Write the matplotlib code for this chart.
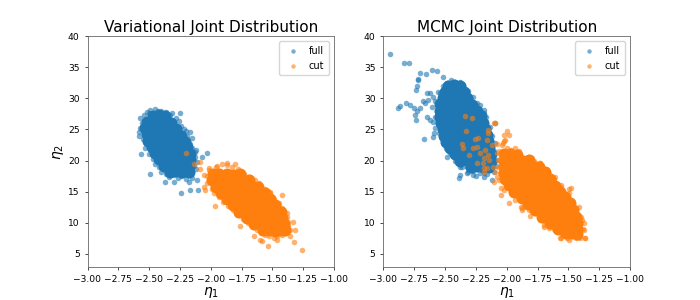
import matplotlib
matplotlib.use("Agg")
import matplotlib.pyplot as plt
import numpy as np

titles = ["Variational Joint Distribution", "MCMC Joint Distribution"]
labels = ["full", "cut"]
xticks = [-3.00, -2.75, -2.50, -2.25, -2.00, -1.75, -1.50, -1.25, -1.00]
yticks = [5, 10, 15, 20, 25, 30, 35, 40]

# ---------------- Variational: full (blue) ----------------
var_full_core_x = [-2.47, -2.42, -2.37,
                   -2.52, -2.47, -2.42, -2.37, -2.32,
                   -2.53, -2.48, -2.43, -2.38, -2.33, -2.28,
                   -2.52, -2.47, -2.42, -2.37, -2.32, -2.27, -2.24,
                   -2.51, -2.46, -2.41, -2.36, -2.31, -2.26, -2.21,
                   -2.48, -2.43, -2.38, -2.33, -2.28, -2.23, -2.19,
                   -2.45, -2.40, -2.35, -2.30, -2.25, -2.20, -2.17,
                   -2.42, -2.37, -2.32, -2.27, -2.22, -2.17,
                   -2.38, -2.33, -2.28, -2.23, -2.18,
                   -2.33, -2.28, -2.23, -2.18]
var_full_core_y = [27.2, 27.3, 27.1,
                   26.2, 26.3, 26.1, 26.2, 26.0,
                   25.2, 25.1, 25.3, 25.2, 25.1, 25.0,
                   24.2, 24.3, 24.1, 24.2, 24.3, 24.1, 24.0,
                   23.2, 23.1, 23.3, 23.2, 23.1, 23.2, 23.0,
                   22.2, 22.3, 22.1, 22.2, 22.3, 22.1, 22.2,
                   21.2, 21.1, 21.3, 21.2, 21.1, 21.2, 21.0,
                   20.2, 20.3, 20.1, 20.2, 20.3, 20.1,
                   19.2, 19.1, 19.3, 19.2, 19.1,
                   18.2, 18.3, 18.1, 18.2]
var_full_edge_x = [-2.571, -2.49, -2.314, -2.152, -2.112, -2.152, -2.34, -2.53, -2.571,
                   -2.45, -2.40, -2.36, -2.28, -2.24, -2.20, -2.17, -2.13, -2.12,
                   -2.20, -2.27, -2.40, -2.45, -2.50, -2.55, -2.58, -2.54, -2.52,
                   -2.253, -2.563, -2.495, -2.239, -2.166, -2.107, -2.031, -2.112,
                   -2.585, -2.166, -2.12, -2.071, -2.368, -2.30, -2.18,
                   -2.56, -2.52, -2.47, -2.42, -2.36, -2.30, -2.24, -2.17, -2.14,
                   -2.13, -2.15, -2.19, -2.22, -2.26, -2.33, -2.43, -2.50]
var_full_edge_y = [26.8, 28.1, 27.6, 23.6, 19.8, 17.2, 17.4, 22.0, 25.2,
                   28.2, 27.9, 27.8, 26.8, 25.6, 24.8, 22.6, 21.3, 18.6,
                   17.0, 17.2, 18.2, 19.5, 21.0, 23.4, 24.0, 27.3, 27.8,
                   27.6, 21.0, 17.85, 14.85, 15.2, 15.2, 21.2, 16.8,
                   24.6, 24.6, 21.7, 20.6, 16.6, 16.5, 16.5,
                   26.0, 22.8, 20.2, 19.0, 17.9, 17.6, 17.5, 17.8, 19.2,
                   20.5, 22.0, 23.9, 25.0, 26.3, 27.3, 28.0, 27.6]

# ---------------- Variational: cut (orange) ----------------
var_cut_core_x = [-1.98, -1.93, -1.87, -1.81, -1.76,
                  -1.99, -1.94, -1.89, -1.84, -1.79, -1.74, -1.69,
                  -1.96, -1.91, -1.86, -1.81, -1.76, -1.71, -1.66, -1.62,
                  -1.92, -1.87, -1.82, -1.77, -1.72, -1.67, -1.62, -1.56,
                  -1.87, -1.82, -1.77, -1.72, -1.67, -1.62, -1.57, -1.52,
                  -1.82, -1.77, -1.72, -1.67, -1.62, -1.57, -1.52, -1.48,
                  -1.77, -1.72, -1.67, -1.62, -1.57, -1.52, -1.47, -1.43,
                  -1.71, -1.66, -1.61, -1.56, -1.51, -1.46, -1.42,
                  -1.65, -1.60, -1.55, -1.50, -1.45, -1.41,
                  -1.58, -1.53, -1.48, -1.43, -1.40]
var_cut_core_y = [17.8, 17.9, 17.8, 17.7, 17.8,
                  16.8, 16.9, 16.8, 16.7, 16.8, 16.9, 16.8,
                  15.8, 15.9, 15.7, 15.8, 15.9, 15.8, 15.7, 15.8,
                  14.8, 14.9, 14.7, 14.8, 14.9, 14.8, 14.7, 14.8,
                  13.8, 13.9, 13.7, 13.8, 13.9, 13.8, 13.7, 13.8,
                  12.8, 12.9, 12.7, 12.8, 12.9, 12.8, 12.7, 12.8,
                  11.8, 11.9, 11.7, 11.8, 11.9, 11.8, 11.7, 11.8,
                  10.8, 10.9, 10.7, 10.8, 10.9, 10.8, 10.7,
                  9.8, 9.9, 9.7, 9.8, 9.9, 9.8,
                  8.8, 8.9, 8.7, 8.8, 8.9]
var_cut_edge_x = [-2.018, -1.95, -1.869, -1.78, -1.68, -1.60, -1.518, -1.45, -1.383,
                  -1.37, -1.356, -1.42, -1.49, -1.56, -1.626, -1.70, -1.788, -1.86,
                  -1.937, -1.99, -2.031, -2.03,
                  -1.259, -1.324, -1.537, -1.969, -1.767, -1.424, -1.33, -1.316,
                  -1.356, -1.653, -1.599, -1.464, -2.045, -2.058, -2.018, -1.869,
                  -1.802, -1.694, -1.613, -1.518, -1.586, -2.058,
                  -2.20, -2.14, -2.09, -2.085,
                  -2.00, -1.96, -1.91, -1.83, -1.73, -1.64, -1.56, -1.49, -1.42, -1.38,
                  -1.37, -1.40, -1.46, -1.53, -1.59, -1.66, -1.74, -1.82, -1.90, -1.97]
var_cut_edge_y = [18.5, 19.1, 19.3, 18.6, 17.4, 16.1, 14.75, 13.1, 11.5,
                  10.2, 8.86, 8.0, 7.5, 8.1, 8.86, 10.0, 11.3, 12.7,
                  14.2, 15.4, 16.4, 17.5,
                  5.65, 6.9, 6.35, 12.75, 9.55, 14.4, 10.1, 8.85,
                  7.8, 7.8, 7.25, 7.25, 15.3, 17.7, 18.8, 19.6,
                  19.45, 16.6, 16.35, 15.0, 7.15, 15.8,
                  21.2, 19.4, 18.7, 19.7,
                  17.0, 18.9, 19.4, 18.9, 17.9, 16.8, 15.4, 13.8, 12.3, 10.9,
                  9.5, 8.4, 7.9, 7.8, 8.4, 9.3, 10.6, 12.0, 13.4, 14.8]

# ---------------- MCMC: full (blue) ----------------
mcmc_full_core_x = [-2.48, -2.43, -2.38,
                    -2.50, -2.45, -2.40, -2.35,
                    -2.52, -2.47, -2.42, -2.37, -2.32,
                    -2.54, -2.49, -2.44, -2.39, -2.34, -2.28,
                    -2.54, -2.49, -2.44, -2.39, -2.34, -2.29, -2.24,
                    -2.54, -2.49, -2.44, -2.39, -2.34, -2.29, -2.25, -2.21,
                    -2.53, -2.48, -2.43, -2.38, -2.33, -2.28, -2.23, -2.19,
                    -2.52, -2.47, -2.42, -2.37, -2.32, -2.27, -2.22, -2.18,
                    -2.51, -2.46, -2.41, -2.36, -2.31, -2.26, -2.21, -2.16,
                    -2.49, -2.44, -2.39, -2.34, -2.29, -2.24, -2.19, -2.15,
                    -2.46, -2.41, -2.36, -2.31, -2.26, -2.21, -2.17, -2.14,
                    -2.42, -2.37, -2.32, -2.27, -2.22, -2.17, -2.13,
                    -2.38, -2.33, -2.28, -2.23, -2.18, -2.13,
                    -2.29, -2.24, -2.19, -2.14]
mcmc_full_core_y = [32.0, 32.1, 31.9,
                    31.0, 31.1, 30.9, 31.0,
                    30.0, 30.1, 29.9, 30.0, 30.1,
                    29.0, 29.1, 28.9, 29.0, 29.1, 28.9,
                    28.0, 28.1, 27.9, 28.0, 28.1, 27.9, 28.0,
                    27.0, 27.1, 26.9, 27.0, 27.1, 26.9, 27.0, 27.1,
                    26.0, 26.1, 25.9, 26.0, 26.1, 25.9, 26.0, 26.1,
                    25.0, 25.1, 24.9, 25.0, 25.1, 24.9, 25.0, 25.1,
                    24.0, 24.1, 23.9, 24.0, 24.1, 23.9, 24.0, 24.1,
                    23.0, 23.1, 22.9, 23.0, 23.1, 22.9, 23.0, 23.1,
                    22.0, 22.1, 21.9, 22.0, 22.1, 21.9, 22.0, 22.1,
                    21.0, 21.1, 20.9, 21.0, 21.1, 20.9, 21.0,
                    20.0, 20.1, 19.9, 20.0, 20.1, 19.9,
                    19.0, 19.1, 18.9, 19.0]
mcmc_full_edge_x = [-2.486, -2.418, -2.351, -2.27, -2.188, -2.134, -2.094, -2.067, -2.107,
                    -2.215, -2.324, -2.459, -2.513, -2.554, -2.567, -2.54, -2.605, -2.59,
                    -2.483, -2.375, -2.186, -2.145, -2.294,
                    -2.946, -2.832, -2.789, -2.702, -2.654, -2.608, -2.562, -2.518,
                    -2.716, -2.735, -2.878, -2.865, -2.816, -2.784, -2.751, -2.729,
                    -2.743, -2.735, -2.702, -2.675, -2.662, -2.635, -2.648, -2.621,
                    -2.60, -2.648, -2.621, -2.594, -2.581, -2.67, -2.594, -2.716,
                    -2.729, -2.215, -2.188, -2.094, -2.378, -2.383, -2.27, -2.188,
                    -2.121, -2.31,
                    -2.52, -2.45, -2.38, -2.31, -2.24, -2.17, -2.12, -2.10, -2.09, -2.16,
                    -2.27, -2.36, -2.42, -2.49, -2.55, -2.58, -2.58, -2.56, -2.25, -2.32]
mcmc_full_edge_y = [32.4, 32.67, 32.13, 30.26, 28.12, 25.45, 22.77, 20.1, 18.22,
                    17.96, 19.03, 21.17, 23.31, 25.98, 28.12, 30.8, 28.65, 24.4,
                    20.6, 19.0, 17.96, 20.6, 29.7,
                    37.06, 35.61, 35.61, 34.0, 33.85, 34.54, 34.3, 33.47,
                    32.94, 31.33, 28.5, 28.77, 29.2, 28.93, 28.39, 28.0,
                    27.32, 26.52, 28.39, 29.57, 29.19, 29.73, 30.8, 30.8,
                    30.26, 27.05, 26.52, 26.25, 25.18, 23.41, 23.84, 33.05,
                    31.97, 28.93, 27.59, 25.98, 17.69, 17.15, 17.69, 17.42,
                    16.89, 18.22,
                    32.0, 33.0, 32.6, 31.2, 29.3, 27.0, 24.0, 21.5, 19.2, 17.8,
                    18.3, 18.9, 20.0, 22.0, 24.5, 27.0, 29.5, 31.0, 17.5, 18.0]

# ---------------- MCMC: cut (orange) ----------------
mcmc_cut_core_x = [-2.02, -1.97, -1.92,
                   -2.02, -1.97, -1.92, -1.87, -1.82,
                   -2.02, -1.97, -1.92, -1.87, -1.82, -1.78, -1.74,
                   -2.02, -1.97, -1.92, -1.87, -1.82, -1.77, -1.73, -1.69,
                   -2.01, -1.96, -1.91, -1.86, -1.81, -1.76, -1.71, -1.65,
                   -1.98, -1.93, -1.88, -1.83, -1.78, -1.73, -1.68, -1.64, -1.61,
                   -1.94, -1.89, -1.84, -1.79, -1.74, -1.69, -1.64, -1.60, -1.57,
                   -1.88, -1.83, -1.78, -1.73, -1.68, -1.63, -1.58, -1.53,
                   -1.83, -1.78, -1.73, -1.68, -1.63, -1.58, -1.53, -1.49,
                   -1.77, -1.72, -1.67, -1.62, -1.57, -1.52, -1.46,
                   -1.71, -1.66, -1.61, -1.56, -1.51, -1.47, -1.44,
                   -1.65, -1.60, -1.55, -1.50, -1.46, -1.43,
                   -1.58, -1.53, -1.48, -1.43,
                   -1.52, -1.47, -1.43]
mcmc_cut_core_y = [21.0, 21.1, 20.9,
                   20.0, 20.1, 19.9, 20.0, 20.1,
                   19.0, 19.1, 18.9, 19.0, 19.1, 18.9, 19.0,
                   18.0, 18.1, 17.9, 18.0, 18.1, 17.9, 18.0, 18.1,
                   17.0, 17.1, 16.9, 17.0, 17.1, 16.9, 17.0, 17.1,
                   16.0, 16.1, 15.9, 16.0, 16.1, 15.9, 16.0, 16.1, 15.9,
                   15.0, 15.1, 14.9, 15.0, 15.1, 14.9, 15.0, 15.1, 14.9,
                   14.0, 14.1, 13.9, 14.0, 14.1, 13.9, 14.0, 14.1,
                   13.0, 13.1, 12.9, 13.0, 13.1, 12.9, 13.0, 13.1,
                   12.0, 12.1, 11.9, 12.0, 12.1, 11.9, 12.0,
                   11.0, 11.1, 10.9, 11.0, 11.1, 10.9, 11.0,
                   10.0, 10.1, 9.9, 10.0, 10.1, 9.9,
                   9.0, 9.1, 8.9, 9.0,
                   8.3, 8.4, 8.2]
mcmc_cut_edge_x = [-2.026, -1.931, -1.823, -1.728, -1.607, -1.498, -1.417, -1.377, -1.417,
                   -1.498, -1.634, -1.769, -1.877, -1.985, -2.053, -2.067, -2.077, -1.969,
                   -1.74, -1.536, -1.40, -1.374, -1.51, -1.70, -1.888, -2.024, -2.077,
                   -2.094, -2.148, -1.999, -1.98, -2.018, -2.034, -2.08, -2.107, -2.045,
                   -1.985, -1.877, -1.81, -1.58, -1.493, -1.553, -1.485, -1.404, -1.363,
                   -1.566, -1.661, -1.701, -1.769, -1.634, -1.482, -1.563, -1.563, -1.496,
                   -1.366, -1.874, -1.93, -2.05, -1.996, -1.726,
                   -2.337, -2.278, -2.329, -2.256, -2.229, -2.161, -2.364, -2.356, -2.27,
                   -2.237, -2.302, -2.215, -2.175, -2.188, -2.148, -2.14, -2.194, -2.161,
                   -2.113, -2.094, -2.188, -2.148, -2.099, -2.024, -2.01, -2.037, -2.118,
                   -2.24, -2.186,
                   -2.07, -2.06, -2.00, -1.90, -1.78, -1.68, -1.62, -1.56, -1.50, -1.44,
                   -1.39, -1.38, -1.44, -1.55, -1.62, -1.73, -1.82, -1.93, -2.00, -2.06]
mcmc_cut_edge_y = [21.43, 21.97, 20.63, 19.56, 17.42, 14.74, 12.6, 9.93, 7.79,
                   8.06, 9.93, 11.54, 13.68, 15.82, 17.96, 20.1, 21.17, 21.7,
                   18.5, 14.75, 11.0, 8.86, 7.5, 9.4, 12.6, 15.3, 17.4,
                   26.09, 24.37, 24.8, 24.11, 23.2, 22.77, 22.66, 16.62, 14.48,
                   13.14, 12.34, 11.11, 15.55, 15.44, 10.46, 8.06, 7.52, 7.52,
                   7.52, 9.13, 9.66, 19.56, 17.42, 15.55, 16.1, 7.53, 7.25,
                   7.53, 12.07, 13.68, 15.55, 16.9, 19.56,
                   27.16, 26.89, 24.75, 23.52, 23.68, 23.31, 22.61, 21.97, 21.97,
                   22.13, 20.9, 21.17, 21.7, 20.36, 20.9, 20.1, 19.56, 18.76,
                   19.03, 18.22, 18.22, 24.91, 26.09, 24.1, 23.3, 22.5, 22.5,
                   19.56, 18.76,
                   19.0, 21.6, 22.0, 21.5, 20.0, 18.5, 17.0, 15.7, 14.1, 12.3,
                   10.5, 9.0, 7.6, 8.0, 9.0, 10.4, 12.0, 14.5, 16.0, 16.8]

panels = [
    [(var_full_core_x, var_full_core_y, var_full_edge_x, var_full_edge_y),
     (var_cut_core_x, var_cut_core_y, var_cut_edge_x, var_cut_edge_y)],
    [(mcmc_full_core_x, mcmc_full_core_y, mcmc_full_edge_x, mcmc_full_edge_y),
     (mcmc_cut_core_x, mcmc_cut_core_y, mcmc_cut_edge_x, mcmc_cut_edge_y)],
]
colors = ["#1f77b4", "#ff7f0e"]

fig, axes = plt.subplots(1, 2, figsize=(7, 3), dpi=100)
for ax, title, groups in zip(axes, titles, panels):
    handles = []
    for (cx, cy, ex, ey), col, lab in zip(groups, colors, labels):
        ax.scatter(cx, cy, s=75, color=col, alpha=1.0, linewidths=0)
        h = ax.scatter(ex, ey, s=16, color=col, alpha=0.6, linewidths=0, label=lab)
        handles.append(h)
    ax.set_xlim(-3, -1)
    ax.set_ylim(2.9, 40)
    ax.set_xticks(xticks)
    ax.set_yticks(yticks)
    ax.tick_params(labelsize=6.6, length=2.2, width=0.5)
    for sp in ax.spines.values():
        sp.set_linewidth(0.6)
        sp.set_color("#666666")
    ax.set_title(title, fontsize=11, pad=3)
    ax.set_xlabel(r"$\eta_1$", fontsize=10, labelpad=1)
    ax.legend(handles=handles, loc="upper right", fontsize=7, markerscale=0.8,
              handletextpad=0.6, borderpad=0.5, labelspacing=0.5)
axes[0].set_ylabel(r"$\eta_2$", fontsize=10, labelpad=1)

fig.savefig("out.png", dpi=100)
